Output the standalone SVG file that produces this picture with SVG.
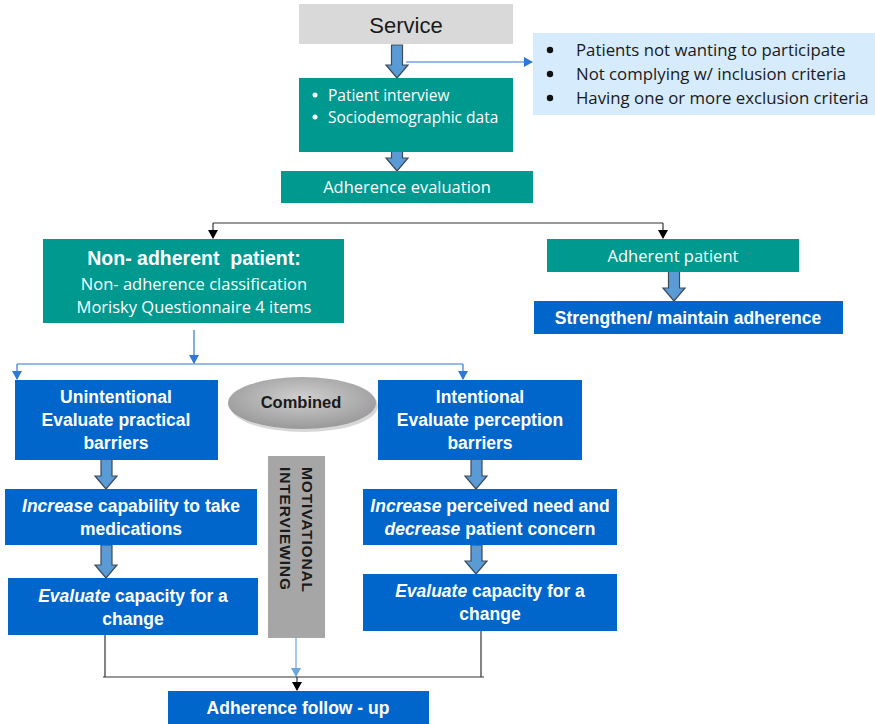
<svg xmlns="http://www.w3.org/2000/svg" width="875" height="724" viewBox="0 0 875 724">
<defs>
<style>
text{font-family:"Liberation Sans",Arial,sans-serif;}
.teal{fill:#009990;}
.blue{fill:#0066cc;}
.wt{fill:#ffffff;font-size:16.5px;font-family:"Open Sans","Liberation Sans",sans-serif;}
.ex{fill:#1a1a1a;font-size:16.8px;font-family:"Open Sans","Liberation Sans",sans-serif;}
.wb{fill:#ffffff;font-size:17.5px;font-weight:bold;}
.barrow{fill:#5b9bd5;stroke:#3c4a5a;stroke-width:1.2;}
.blk{stroke:#333333;stroke-width:1.2;fill:none;}
.bl{stroke:#2f78d8;stroke-width:1.2;fill:none;}
.lb{stroke:#6aa5e0;stroke-width:1.2;fill:none;}
</style>
<marker id="mBl" markerWidth="10" markerHeight="10" refX="5" refY="8" markerUnits="userSpaceOnUse" viewBox="0 0 10 10"><path d="M0,0 L10,0 L5,9 Z" fill="#2f78d8"/></marker>
<marker id="mBlkD" markerWidth="10" markerHeight="10" refX="5" refY="8" markerUnits="userSpaceOnUse" viewBox="0 0 10 10"><path d="M0,0 L10,0 L5,9 Z" fill="#000"/></marker>
<marker id="mBlR" markerWidth="10" markerHeight="10" refX="8" refY="5" markerUnits="userSpaceOnUse" viewBox="0 0 10 10"><path d="M0,0 L9,5 L0,10 Z" fill="#2f78d8"/></marker>
<marker id="mLb" markerWidth="10" markerHeight="10" refX="5" refY="8" markerUnits="userSpaceOnUse" viewBox="0 0 10 10"><path d="M0,0 L10,0 L5,9 Z" fill="#6aa5e0"/></marker>
<radialGradient id="gEll" cx="50%" cy="40%" r="60%">
<stop offset="0" stop-color="#d0d0d0"/><stop offset="1" stop-color="#999999"/>
</radialGradient>
</defs>

<g id="connectors">
<path class="bl" d="M406,62 H532" marker-end="url(#mBlR)"/>
<path class="blk" d="M213,223 H663"/>
<path class="blk" d="M213,223 V238" marker-end="url(#mBlkD)"/>
<path class="blk" d="M663,223 V238" marker-end="url(#mBlkD)"/>
<path class="bl" d="M194,330 V363" marker-end="url(#mBl)"/>
<path class="bl" d="M17,364 H463"/>
<path class="bl" d="M17,364 V379" marker-end="url(#mBl)"/>
<path class="bl" d="M463,364 V379" marker-end="url(#mBl)"/>
<path class="lb" d="M296,612 V676" marker-end="url(#mLb)"/>
<path class="blk" d="M105,635 V677 M481,631 V677 M103,677 H484"/>
<path class="blk" d="M297,677 V690" marker-end="url(#mBlkD)"/>
<path class="barrow" d="M391.5,45 H402.5 V65 H408 L397,78 L386,65 H391.5 Z"/>
<path class="barrow" d="M391.5,141 H402.5 V158 H408 L397,171 L386,158 H391.5 Z"/>
<path class="barrow" d="M668.5,270 H679.5 V288 H685 L674,301 L663,288 H668.5 Z"/>
<path class="barrow" d="M101,459 H112 V476 H117 L106,489 L95,476 H101 Z"/>
<path class="barrow" d="M101,545 H112 V565 H117 L106,578 L95,565 H101 Z"/>
<path class="barrow" d="M471,458 H482 V476 H487 L476,489 L465,476 H471 Z"/>
<path class="barrow" d="M471,545 H482 V561 H487 L476,574 L465,561 H471 Z"/>
</g>

<g id="service">
<rect x="299" y="4" width="214" height="40" fill="#d9d9d9"/>
<text x="406" y="33" font-size="22" text-anchor="middle" fill="#1a1a1a">Service</text>
</g>

<g id="exclusion">
<rect x="533" y="33" width="342" height="82" fill="#d6ebfb"/>
<circle cx="550" cy="50" r="3.2" fill="#111"/>
<circle cx="550" cy="74" r="3.2" fill="#111"/>
<circle cx="550" cy="98" r="3.2" fill="#111"/>
<text class="ex" x="576" y="56">Patients not wanting to participate</text>
<text class="ex" x="576" y="80">Not complying w/ inclusion criteria</text>
<text class="ex" x="576" y="104">Having one or more exclusion criteria</text>
</g>

<g id="interview">
<rect class="teal" x="299" y="78" width="214" height="74"/>
<circle cx="315" cy="95" r="2.5" fill="#fff"/>
<circle cx="315" cy="117" r="2.5" fill="#fff"/>
<text class="wt" x="328" y="101" style="font-size:15.5px">Patient interview</text>
<text class="wt" x="328" y="123" style="font-size:15.5px">Sociodemographic data</text>
</g>

<g id="evaluation">
<rect class="teal" x="281" y="171" width="252" height="32"/>
<text class="wt" x="407" y="193" text-anchor="middle">Adherence evaluation</text>
</g>

<g id="nonadherent">
<rect class="teal" x="43" y="239" width="301" height="84"/>
<text x="194" y="265" text-anchor="middle" fill="#fff" font-size="19.5" font-weight="bold" xml:space="preserve">Non- adherent  patient:</text>
<text class="wt" x="194" y="290" text-anchor="middle">Non- adherence classification</text>
<text class="wt" x="194" y="313" text-anchor="middle">Morisky Questionnaire 4 items</text>
</g>

<g id="adherent">
<rect class="teal" x="547" y="239" width="252" height="33"/>
<text class="wt" x="673" y="262" text-anchor="middle">Adherent patient</text>
</g>

<g id="strengthen">
<rect class="blue" x="534" y="301" width="309" height="33"/>
<text class="wb" x="688" y="324" text-anchor="middle">Strengthen/ maintain adherence</text>
</g>

<g id="unintentional">
<rect class="blue" x="15" y="380" width="203" height="80"/>
<text class="wb" x="116" y="403" text-anchor="middle">Unintentional</text>
<text class="wb" x="116" y="426" text-anchor="middle">Evaluate practical</text>
<text class="wb" x="116" y="449" text-anchor="middle">barriers</text>
</g>

<g id="increase-capability">
<rect class="blue" x="5" y="489" width="252" height="56"/>
<text class="wb" x="131" y="512" text-anchor="middle"><tspan font-style="italic">Increase</tspan> capability to take</text>
<text class="wb" x="131" y="535" text-anchor="middle">medications</text>
</g>

<g id="evaluate-left">
<rect class="blue" x="8" y="578" width="250" height="57"/>
<text class="wb" x="133" y="602" text-anchor="middle"><tspan font-style="italic">Evaluate</tspan> capacity for a</text>
<text class="wb" x="133" y="625" text-anchor="middle">change</text>
</g>

<g id="combined">
<ellipse cx="304" cy="406" rx="74" ry="26" fill="#7a7a7a" opacity="0.3"/>
<ellipse cx="302" cy="403" rx="74" ry="26" fill="url(#gEll)"/>
<text x="301" y="408" text-anchor="middle" font-size="16.5" font-weight="bold" fill="#1a1a1a">Combined</text>
</g>

<g id="motivational">
<rect x="268" y="456" width="57" height="182" fill="#a6a6a6"/>
<text transform="translate(302,467) rotate(90)" font-size="15.5" font-weight="bold" fill="#1a1a1a" textLength="125" lengthAdjust="spacing">MOTIVATIONAL</text>
<text transform="translate(280,467) rotate(90)" font-size="15.5" font-weight="bold" fill="#1a1a1a" textLength="123" lengthAdjust="spacing">INTERVIEWING</text>
</g>

<g id="intentional">
<rect class="blue" x="378" y="380" width="204" height="80"/>
<text class="wb" x="480" y="403" text-anchor="middle">Intentional</text>
<text class="wb" x="480" y="426" text-anchor="middle">Evaluate perception</text>
<text class="wb" x="480" y="449" text-anchor="middle">barriers</text>
</g>

<g id="increase-need">
<rect class="blue" x="363" y="489" width="254" height="56"/>
<text class="wb" x="490" y="512" text-anchor="middle"><tspan font-style="italic">Increase</tspan> perceived need and</text>
<text class="wb" x="490" y="535" text-anchor="middle"><tspan font-style="italic">decrease</tspan> patient concern</text>
</g>

<g id="evaluate-right">
<rect class="blue" x="363" y="574" width="254" height="57"/>
<text class="wb" x="490" y="597" text-anchor="middle"><tspan font-style="italic">Evaluate</tspan> capacity for a</text>
<text class="wb" x="490" y="620" text-anchor="middle">change</text>
</g>

<g id="followup">
<rect class="blue" x="168" y="691" width="261" height="33"/>
<text class="wb" x="298" y="714" text-anchor="middle">Adherence follow - up</text>
</g>
</svg>
